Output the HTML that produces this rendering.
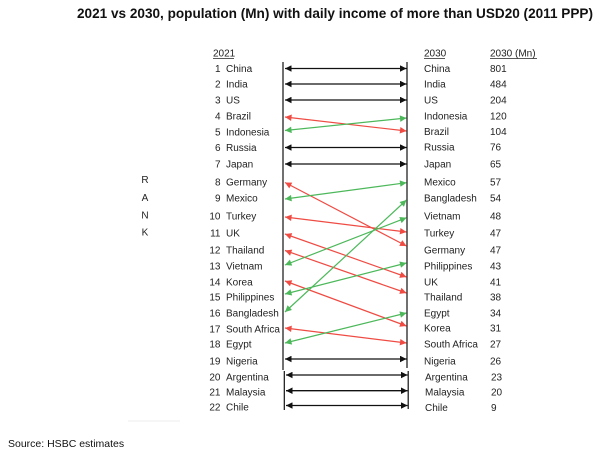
<!DOCTYPE html>
<html>
<head>
<meta charset="utf-8">
<style>
  html,body{margin:0;padding:0;background:#fff;}
  svg{display:block;}
  .t{font-family:"Liberation Sans",Arial,sans-serif;font-size:10px;fill:#222;}
  .ttl{font-family:"Liberation Sans",Arial,sans-serif;font-size:14px;font-weight:bold;fill:#111;}
  .src{font-family:"Liberation Sans",Arial,sans-serif;font-size:10.5px;fill:#111;}
</style>
</head>
<body>
<svg width="600" height="452" viewBox="0 0 600 452" xmlns="http://www.w3.org/2000/svg">
  <defs>
    <marker id="ak" viewBox="0 0 10 10" refX="10" refY="5" markerUnits="userSpaceOnUse" markerWidth="9" markerHeight="6.5" orient="auto-start-reverse"><path d="M0,0 L10,5 L0,10 z" fill="#111"/></marker>
    <marker id="ar" viewBox="0 0 10 10" refX="10" refY="5" markerUnits="userSpaceOnUse" markerWidth="9" markerHeight="6.5" orient="auto-start-reverse"><path d="M0,0 L10,5 L0,10 z" fill="#ef4b43"/></marker>
    <marker id="ag" viewBox="0 0 10 10" refX="10" refY="5" markerUnits="userSpaceOnUse" markerWidth="9" markerHeight="6.5" orient="auto-start-reverse"><path d="M0,0 L10,5 L0,10 z" fill="#4cb85a"/></marker>
  </defs>

  <text class="ttl" x="77" y="18" textLength="516" lengthAdjust="spacingAndGlyphs">2021 vs 2030, population (Mn) with daily income of more than USD20 (2011 PPP)</text>

  <!-- headers -->
  <text class="t" x="213" y="56.5">2021</text>
  <line x1="213" y1="58.5" x2="234" y2="58.5" stroke="#222" stroke-width="0.7"/>
  <text class="t" x="424" y="56.5">2030</text>
  <line x1="424" y1="58.5" x2="445" y2="58.5" stroke="#222" stroke-width="0.7"/>
  <text class="t" x="490" y="56.5">2030 (Mn)</text>
  <line x1="490" y1="58.5" x2="537" y2="58.5" stroke="#222" stroke-width="0.7"/>

  <!-- RANK -->
  <text class="t" x="145" y="183" text-anchor="middle">R</text>
  <text class="t" x="145" y="201" text-anchor="middle">A</text>
  <text class="t" x="145" y="218.5" text-anchor="middle">N</text>
  <text class="t" x="145" y="235.5" text-anchor="middle">K</text>

  <!-- left labels -->
  <g class="t">
    <text x="220.5" y="72" text-anchor="end">1</text><text x="226" y="72">China</text>
    <text x="220.5" y="87.5" text-anchor="end">2</text><text x="226" y="87.5">India</text>
    <text x="220.5" y="103.5" text-anchor="end">3</text><text x="226" y="103.5">US</text>
    <text x="220.5" y="119.5" text-anchor="end">4</text><text x="226" y="119.5">Brazil</text>
    <text x="220.5" y="135.5" text-anchor="end">5</text><text x="226" y="135.5">Indonesia</text>
    <text x="220.5" y="151" text-anchor="end">6</text><text x="226" y="151">Russia</text>
    <text x="220.5" y="167.5" text-anchor="end">7</text><text x="226" y="167.5">Japan</text>
    <text x="220.5" y="185.5" text-anchor="end">8</text><text x="226" y="185.5">Germany</text>
    <text x="220.5" y="201.5" text-anchor="end">9</text><text x="226" y="201.5">Mexico</text>
    <text x="220.5" y="219.5" text-anchor="end">10</text><text x="226" y="219.5">Turkey</text>
    <text x="220.5" y="236.5" text-anchor="end">11</text><text x="226" y="236.5">UK</text>
    <text x="220.5" y="253.5" text-anchor="end">12</text><text x="226" y="253.5">Thailand</text>
    <text x="220.5" y="269.5" text-anchor="end">13</text><text x="226" y="269.5">Vietnam</text>
    <text x="220.5" y="285.5" text-anchor="end">14</text><text x="226" y="285.5">Korea</text>
    <text x="220.5" y="300.5" text-anchor="end">15</text><text x="226" y="300.5">Philippines</text>
    <text x="220.5" y="316.5" text-anchor="end">16</text><text x="226" y="316.5">Bangladesh</text>
    <text x="220.5" y="332.5" text-anchor="end">17</text><text x="226" y="332.5">South Africa</text>
    <text x="220.5" y="347.5" text-anchor="end">18</text><text x="226" y="347.5">Egypt</text>
    <text x="220.5" y="364.5" text-anchor="end">19</text><text x="226" y="364.5">Nigeria</text>
    <text x="220.5" y="380.5" text-anchor="end">20</text><text x="226" y="380.5">Argentina</text>
    <text x="220.5" y="395.5" text-anchor="end">21</text><text x="226" y="395.5">Malaysia</text>
    <text x="220.5" y="410.5" text-anchor="end">22</text><text x="226" y="410.5">Chile</text>
  </g>

  <!-- right labels -->
  <g class="t">
    <text x="424" y="72">China</text><text x="490" y="72">801</text>
    <text x="424" y="87.5">India</text><text x="490" y="87.5">484</text>
    <text x="424" y="103.5">US</text><text x="490" y="103.5">204</text>
    <text x="424" y="119.5">Indonesia</text><text x="490" y="119.5">120</text>
    <text x="424" y="135">Brazil</text><text x="490" y="135">104</text>
    <text x="424" y="150.5">Russia</text><text x="490" y="150.5">76</text>
    <text x="424" y="167.5">Japan</text><text x="490" y="167.5">65</text>
    <text x="424" y="185.5">Mexico</text><text x="490" y="185.5">57</text>
    <text x="424" y="201.5">Bangladesh</text><text x="490" y="201.5">54</text>
    <text x="424" y="219.5">Vietnam</text><text x="490" y="219.5">48</text>
    <text x="424" y="236.5">Turkey</text><text x="490" y="236.5">47</text>
    <text x="424" y="253.5">Germany</text><text x="490" y="253.5">47</text>
    <text x="424" y="269.5">Philippines</text><text x="490" y="269.5">43</text>
    <text x="424" y="285.5">UK</text><text x="490" y="285.5">41</text>
    <text x="424" y="300.5">Thailand</text><text x="490" y="300.5">38</text>
    <text x="424" y="316.5">Egypt</text><text x="490" y="316.5">34</text>
    <text x="424" y="331.5">Korea</text><text x="490" y="331.5">31</text>
    <text x="424" y="347.5">South Africa</text><text x="490" y="347.5">27</text>
    <text x="424" y="364.5">Nigeria</text><text x="490" y="364.5">26</text>
    <text x="425" y="380.5">Argentina</text><text x="491" y="380.5">23</text>
    <text x="425" y="395.5">Malaysia</text><text x="491" y="395.5">20</text>
    <text x="425" y="411">Chile</text><text x="491" y="411">9</text>
  </g>

  <!-- vertical lines -->
  <g stroke="#111" stroke-width="1.2">
    <line x1="283" y1="62" x2="283" y2="370"/>
    <line x1="284.3" y1="371" x2="284.3" y2="410"/>
    <line x1="407" y1="62" x2="407" y2="368"/>
    <line x1="408.2" y1="371" x2="408.2" y2="409"/>
  </g>

  <!-- black arrows -->
  <g stroke="#111" stroke-width="1.3" marker-start="url(#ak)" marker-end="url(#ak)">
    <line x1="285" y1="68.5" x2="406.5" y2="68.5"/>
    <line x1="285" y1="84" x2="406.5" y2="84"/>
    <line x1="285" y1="100" x2="406.5" y2="100"/>
    <line x1="285" y1="147.5" x2="406.5" y2="147.5"/>
    <line x1="285" y1="164" x2="406.5" y2="164"/>
    <line x1="285" y1="359" x2="406.5" y2="359"/>
    <line x1="286" y1="375" x2="407.5" y2="375"/>
    <line x1="286" y1="390.7" x2="407.5" y2="390.7"/>
    <line x1="286" y1="405.5" x2="407.5" y2="405.5"/>
  </g>

  <!-- red arrows -->
  <g stroke="#ef4b43" stroke-width="1.2" marker-start="url(#ar)" marker-end="url(#ar)">
    <line x1="285" y1="117" x2="406.5" y2="131"/>
    <line x1="285" y1="182.5" x2="406.5" y2="246"/>
    <line x1="285" y1="217" x2="406.5" y2="232"/>
    <line x1="285" y1="234" x2="406.5" y2="277"/>
    <line x1="285" y1="250.5" x2="406.5" y2="293"/>
    <line x1="285" y1="281" x2="406.5" y2="326"/>
    <line x1="285" y1="328" x2="406.5" y2="343"/>
  </g>

  <!-- green arrows -->
  <g stroke="#4cb85a" stroke-width="1.2" marker-start="url(#ag)" marker-end="url(#ag)">
    <line x1="285" y1="130.5" x2="406.5" y2="118"/>
    <line x1="285" y1="199" x2="406.5" y2="182.7"/>
    <line x1="285" y1="265" x2="406.5" y2="217.7"/>
    <line x1="285" y1="294" x2="406.5" y2="263"/>
    <line x1="285" y1="312" x2="406.5" y2="200"/>
    <line x1="285" y1="343" x2="406.5" y2="313"/>
  </g>

  <line x1="128" y1="421" x2="180" y2="421" stroke="#eee" stroke-width="1"/>
  <text class="src" x="8" y="447">Source: HSBC estimates</text>
</svg>
</body>
</html>
